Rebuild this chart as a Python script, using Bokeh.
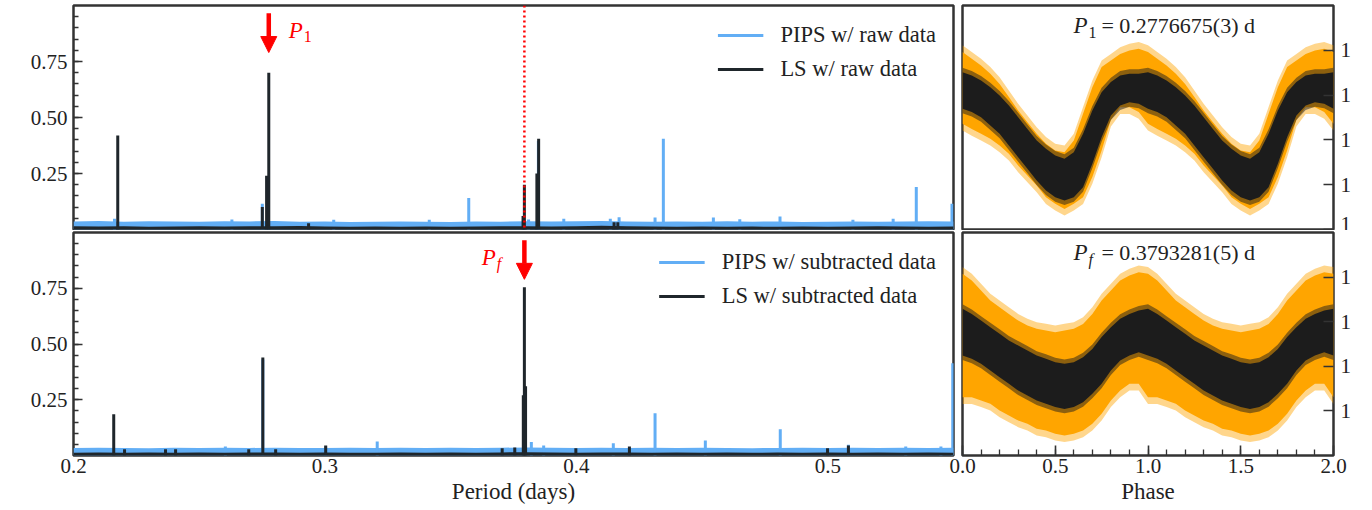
from bokeh.plotting import figure
from bokeh.layouts import row, column
from bokeh.models import (FixedTicker, Legend, LegendItem, Span, Arrow, NormalHead,
                          Label, CustomJSTickFormatter, PrintfTickFormatter, Range1d)
from bokeh.embed import file_html
from bokeh.resources import INLINE

SERIF = "Liberation Serif"
BLUE = "#62aef5"
DARK = "#1f262b"
ORANGE = "#ffa500"
BLACK = "#1c1c1c"
RED = "#ff0000"
SPINE = "#333333"
TXT = "#222222"

# best periods (days)
P1 = 0.2776675
PF = 0.3793281

# ---------------- periodograms ----------------
# noise floor, sampled every 0.01 d
floor_period = [0.20, 0.21, 0.22, 0.23, 0.24, 0.25, 0.26, 0.27, 0.28, 0.29, 0.30, 0.31,
                0.32, 0.33, 0.34, 0.35, 0.36, 0.37, 0.38, 0.39, 0.40, 0.41, 0.42, 0.43,
                0.44, 0.45, 0.46, 0.47, 0.48, 0.49, 0.50, 0.51, 0.52, 0.53, 0.54, 0.55]
raw_pips_floor = [0.036, 0.038, 0.035, 0.037, 0.036, 0.035, 0.037, 0.036, 0.038, 0.035, 0.036, 0.034,
                  0.035, 0.036, 0.035, 0.034, 0.036, 0.035, 0.037, 0.036, 0.037, 0.038, 0.036, 0.035,
                  0.036, 0.035, 0.037, 0.035, 0.036, 0.034, 0.035, 0.036, 0.035, 0.036, 0.037, 0.036]
raw_ls_floor = [0.014, 0.013, 0.014, 0.012, 0.013, 0.014, 0.013, 0.015, 0.014, 0.016, 0.013, 0.012,
                0.013, 0.012, 0.013, 0.012, 0.013, 0.014, 0.015, 0.013, 0.014, 0.017, 0.014, 0.013,
                0.012, 0.013, 0.012, 0.013, 0.012, 0.013, 0.012, 0.013, 0.014, 0.013, 0.012, 0.013]
sub_pips_floor = [0.034, 0.035, 0.034, 0.033, 0.035, 0.034, 0.035, 0.034, 0.035, 0.034, 0.034, 0.035,
                  0.034, 0.035, 0.034, 0.035, 0.034, 0.035, 0.036, 0.035, 0.034, 0.035, 0.034, 0.035,
                  0.034, 0.035, 0.034, 0.033, 0.034, 0.035, 0.034, 0.035, 0.034, 0.035, 0.034, 0.035]
sub_ls_floor = [0.012, 0.013, 0.012, 0.013, 0.012, 0.013, 0.012, 0.013, 0.014, 0.012, 0.013, 0.012,
                0.012, 0.013, 0.012, 0.013, 0.012, 0.014, 0.015, 0.013, 0.012, 0.013, 0.014, 0.012,
                0.013, 0.012, 0.013, 0.012, 0.013, 0.012, 0.013, 0.012, 0.013, 0.012, 0.013, 0.012]

# individual peaks above the floor
raw_pips_period = [0.2163, 0.2630, 0.2751, 0.3035, 0.3415, 0.3572, 0.3810, 0.3849, 0.3950, 0.4135,
                   0.4170, 0.4313, 0.4346, 0.4545, 0.4650, 0.4810, 0.5100, 0.5260, 0.5352, 0.5494]
raw_pips_power = [0.048, 0.045, 0.115, 0.044, 0.044, 0.141, 0.045, 0.395, 0.048, 0.048,
                  0.055, 0.054, 0.405, 0.054, 0.046, 0.058, 0.044, 0.048, 0.190, 0.115]
raw_ls_period = [0.2176, 0.2751, 0.2768, P1, 0.2935, 0.3788, PF, 0.3843, 0.3850, 0.4150, 0.4165]
raw_ls_power = [0.420, 0.100, 0.240, 0.700, 0.028, 0.060, 0.200, 0.250, 0.405, 0.032, 0.032]

sub_pips_period = [0.2604, 0.2753, 0.3003, 0.3208, 0.3821, 0.3870, 0.4147, 0.4313, 0.4513, 0.4811,
                   0.5082, 0.5310, 0.5450, 0.5497]
sub_pips_power = [0.040, 0.430, 0.040, 0.063, 0.060, 0.045, 0.055, 0.190, 0.067, 0.118,
                  0.048, 0.040, 0.040, 0.414]
sub_ls_period = [0.2160, 0.2203, 0.2366, 0.2406, 0.2697, 0.2753, 0.2804, 0.3003, 0.3705, 0.3755,
                 0.3789, PF, 0.3798, 0.3998, 0.4211, 0.4999, 0.5082]
sub_ls_power = [0.185, 0.028, 0.028, 0.028, 0.028, 0.440, 0.028, 0.045, 0.032, 0.036,
                0.270, 0.755, 0.310, 0.032, 0.040, 0.032, 0.045]

# ---------------- phase-folded light curves (one cycle, repeated) ----------------
phase = [0.00, 0.05, 0.10, 0.15, 0.20, 0.25, 0.30, 0.35, 0.40, 0.45, 0.50,
         0.55, 0.60, 0.65, 0.70, 0.75, 0.80, 0.85, 0.90, 0.95, 1.00]
p1_black_hi = [0.702, 0.688, 0.665, 0.635, 0.598, 0.554, 0.501, 0.449, 0.397, 0.360, 0.330,
               0.316, 0.345, 0.427, 0.531, 0.613, 0.658, 0.688, 0.695, 0.695, 0.702]
p1_black_lo = [0.539, 0.524, 0.501, 0.464, 0.427, 0.375, 0.323, 0.271, 0.219, 0.174, 0.144,
               0.129, 0.144, 0.189, 0.293, 0.412, 0.509, 0.554, 0.568, 0.561, 0.539]
p1_orange_hi = [0.792, 0.762, 0.732, 0.695, 0.650, 0.591, 0.531, 0.479, 0.427, 0.383, 0.353,
                0.345, 0.397, 0.517, 0.635, 0.725, 0.754, 0.784, 0.799, 0.807, 0.792]
p1_orange_lo = [0.472, 0.449, 0.427, 0.405, 0.375, 0.338, 0.286, 0.241, 0.196, 0.144, 0.115,
                0.092, 0.115, 0.144, 0.234, 0.353, 0.490, 0.546, 0.546, 0.524, 0.472]

pf_black_hi = [0.658, 0.635, 0.605, 0.575, 0.546, 0.516, 0.493, 0.471, 0.448, 0.434, 0.418,
               0.411, 0.418, 0.441, 0.478, 0.531, 0.575, 0.613, 0.635, 0.650, 0.658]
pf_black_lo = [0.448, 0.434, 0.411, 0.381, 0.351, 0.322, 0.291, 0.269, 0.247, 0.232, 0.217,
               0.209, 0.217, 0.239, 0.277, 0.322, 0.381, 0.426, 0.448, 0.463, 0.448]
pf_orange_hi = [0.815, 0.785, 0.740, 0.695, 0.665, 0.635, 0.605, 0.583, 0.568, 0.561, 0.553,
                0.561, 0.568, 0.590, 0.635, 0.695, 0.740, 0.785, 0.807, 0.822, 0.815]
pf_orange_lo = [0.261, 0.261, 0.247, 0.232, 0.202, 0.179, 0.157, 0.142, 0.120, 0.112, 0.097,
                0.090, 0.097, 0.112, 0.142, 0.187, 0.247, 0.291, 0.322, 0.322, 0.261]


def two_cycles(values):
    return list(values[:-1]) + list(values)


def shifted(values, dv):
    return [v + dv for v in two_cycles(values)]


phase2 = list(phase[:-1]) + [p + 1.0 for p in phase]


def style_frame(p):
    p.outline_line_color = SPINE
    p.outline_line_width = 2.5
    p.grid.visible = False
    p.border_fill_color = None
    p.background_fill_color = "white"


def periodogram(pips_floor, ls_floor, pips_x, pips_y, ls_x, ls_y, labels,
                height, top, bottom, show_x, margin):
    p = figure(width=955, height=height, x_range=Range1d(0.2, 0.55), y_range=Range1d(0.0, 1.0),
               min_border_left=73, min_border_right=2, min_border_top=top,
               min_border_bottom=bottom, output_backend="svg", toolbar_location=None,
               margin=margin)
    style_frame(p)
    p.varea(x=floor_period, y1=0, y2=pips_floor, fill_color=BLUE)
    r_pips = p.segment(x0=pips_x, y0=0, x1=pips_x, y1=pips_y, line_color=BLUE, line_width=3)
    p.varea(x=floor_period, y1=0, y2=ls_floor, fill_color=DARK)
    r_ls = p.segment(x0=ls_x, y0=0, x1=ls_x, y1=ls_y, line_color=DARK, line_width=3)

    ax = p.yaxis[0]
    ax.ticker = FixedTicker(ticks=[0.25, 0.5, 0.75],
                            minor_ticks=[round(0.05 * i, 2) for i in range(1, 20)])
    ax.formatter = PrintfTickFormatter(format="%.2f")
    ax.axis_line_color = None
    ax.major_tick_in, ax.major_tick_out = 9, 0
    ax.minor_tick_in, ax.minor_tick_out = 5, 0
    ax.major_tick_line_color = SPINE
    ax.minor_tick_line_color = SPINE
    ax.major_tick_line_width = 1.6
    ax.minor_tick_line_width = 1.3
    ax.major_label_text_font = SERIF
    ax.major_label_text_font_size = "21px"
    ax.major_label_text_color = TXT
    ax.major_label_standoff = 6

    xa = p.xaxis[0]
    if show_x:
        xa.ticker = FixedTicker(ticks=[0.2, 0.3, 0.4, 0.5])
        xa.formatter = PrintfTickFormatter(format="%.1f")
        xa.axis_line_color = None
        xa.major_tick_in, xa.major_tick_out = 0, 0
        xa.minor_tick_in, xa.minor_tick_out = 0, 0
        xa.major_label_text_font = SERIF
        xa.major_label_text_font_size = "21px"
        xa.major_label_text_color = TXT
        xa.major_label_standoff = 3
        xa.axis_label = "Period (days)"
        xa.axis_label_text_font = SERIF
        xa.axis_label_text_font_size = "23px"
        xa.axis_label_text_font_style = "normal"
        xa.axis_label_text_color = TXT
        xa.axis_label_standoff = 3
    else:
        xa.visible = False

    legend = Legend(items=[LegendItem(label=labels[0], renderers=[r_pips]),
                           LegendItem(label=labels[1], renderers=[r_ls])],
                    location="top_right", margin=8, padding=10, spacing=8,
                    label_standoff=17, glyph_width=46, glyph_height=22, label_height=22,
                    border_line_alpha=0, background_fill_alpha=0,
                    label_text_font=SERIF, label_text_font_size="22.5px",
                    label_text_color=TXT)
    legend.margin = 7
    p.add_layout(legend)
    return p


def period_marker(p, period, x_label, sub, sub_style):
    p.add_layout(Arrow(end=NormalHead(size=16, fill_color=RED, line_color=RED, line_width=1),
                       x_start=period, y_start=0.965, x_end=period, y_end=0.79,
                       line_color=RED, line_width=4.5))
    p.add_layout(Label(x=x_label, y=0.887, text="P", text_font=SERIF, text_font_style="italic",
                       text_font_size="23px", text_color=RED, text_baseline="middle"))
    p.add_layout(Label(x=x_label, x_offset=15, y=0.860, text=sub, text_font=SERIF,
                       text_font_style=sub_style, text_font_size="16px", text_color=RED,
                       text_baseline="middle"))


def phase_panel(bk_hi, bk_lo, or_hi, or_lo, y_ticks, height, top, bottom, show_x, margin,
                sub, sub_style, value_text):
    p = figure(width=432, height=height, x_range=Range1d(0.0, 2.0), y_range=Range1d(0.0, 1.0),
               y_axis_location="right", min_border_left=22, min_border_right=39,
               min_border_top=top, min_border_bottom=bottom, output_backend="svg",
               toolbar_location=None, margin=margin)
    style_frame(p)
    # raw photometry: thin outskirts of the cloud, then its dense core
    p.varea(x=phase2, y1=shifted(or_lo, -0.03), y2=shifted(or_hi, 0.03),
            fill_color=ORANGE, fill_alpha=0.45)
    p.varea(x=phase2, y1=two_cycles(or_lo), y2=two_cycles(or_hi), fill_color=ORANGE)
    # residual photometry: outskirts, then dense core
    p.varea(x=phase2, y1=shifted(bk_lo, -0.02), y2=shifted(bk_hi, 0.02),
            fill_color=BLACK, fill_alpha=0.5)
    p.varea(x=phase2, y1=two_cycles(bk_lo), y2=two_cycles(bk_hi), fill_color=BLACK)

    ya = p.yaxis[0]
    ya.ticker = FixedTicker(ticks=y_ticks, minor_ticks=[])
    ya.formatter = CustomJSTickFormatter(code="return '1'")
    ya.axis_line_color = None
    ya.major_tick_in, ya.major_tick_out = 10, 0
    ya.major_tick_line_color = SPINE
    ya.major_tick_line_width = 1.6
    ya.major_label_text_font = SERIF
    ya.major_label_text_font_size = "21px"
    ya.major_label_text_color = TXT
    ya.major_label_standoff = 7

    xa = p.xaxis[0]
    if show_x:
        xa.ticker = FixedTicker(ticks=[0.0, 0.5, 1.0, 1.5, 2.0],
                                minor_ticks=[round(0.1 * i, 1) for i in range(1, 20)])
        xa.formatter = PrintfTickFormatter(format="%.1f")
        xa.axis_line_color = None
        xa.major_tick_in, xa.major_tick_out = 10, 0
        xa.minor_tick_in, xa.minor_tick_out = 6, 0
        xa.major_tick_line_color = SPINE
        xa.minor_tick_line_color = SPINE
        xa.major_tick_line_width = 1.6
        xa.minor_tick_line_width = 1.3
        xa.major_label_text_font = SERIF
        xa.major_label_text_font_size = "21px"
        xa.major_label_text_color = TXT
        xa.major_label_standoff = 3
        xa.axis_label = "Phase"
        xa.axis_label_text_font = SERIF
        xa.axis_label_text_font_size = "23px"
        xa.axis_label_text_font_style = "normal"
        xa.axis_label_text_color = TXT
        xa.axis_label_standoff = 3
    else:
        xa.visible = False

    p.add_layout(Label(x=0.598, y=0.912, text="P", text_font=SERIF, text_font_style="italic",
                       text_font_size="23px", text_color=TXT, text_baseline="middle"))
    p.add_layout(Label(x=0.598, x_offset=15, y=0.880, text=sub, text_font=SERIF,
                       text_font_style=sub_style, text_font_size="16px", text_color=TXT,
                       text_baseline="middle"))
    p.add_layout(Label(x=0.598, x_offset=28, y=0.912, text=value_text, text_font=SERIF,
                       text_font_size="22px", text_color=TXT, text_baseline="middle"))
    return p


top_left = periodogram(raw_pips_floor, raw_ls_floor, raw_pips_period, raw_pips_power,
                       raw_ls_period, raw_ls_power, ["PIPS w/ raw data", "LS w/ raw data"],
                       height=230, top=5, bottom=1, show_x=False, margin=(0, 0, 0, 0))
top_left.add_layout(Span(location=PF, dimension="height", line_color=RED,
                         line_dash="2 3", line_width=2.5))
period_marker(top_left, P1, 0.2856, "1", "normal")

bottom_left = periodogram(sub_pips_floor, sub_ls_floor, sub_pips_period, sub_pips_power,
                          sub_ls_period, sub_ls_power,
                          ["PIPS w/ subtracted data", "LS w/ subtracted data"],
                          height=300, top=22, bottom=55, show_x=True, margin=(-20, 0, 0, 0))
period_marker(bottom_left, PF, 0.3624, "f", "italic")
bottom_left.add_layout(Label(x=0.2, x_offset=-68, y=1.0, y_offset=2, text="Power",
                             text_font=SERIF, text_font_size="22px", text_color=TXT,
                             text_baseline="middle"))

top_right = phase_panel(p1_black_hi, p1_black_lo, p1_orange_hi, p1_orange_lo,
                        [0.0, 0.2, 0.4, 0.6, 0.8], height=230, top=5, bottom=1, show_x=False,
                        margin=(0, 0, 0, 0), sub="1", sub_style="normal",
                        value_text=f"= {P1:.7f}(3) d")
bottom_right = phase_panel(pf_black_hi, pf_black_lo, pf_orange_hi, pf_orange_lo,
                           [0.2, 0.4, 0.6, 0.8], height=300, top=22, bottom=55, show_x=True,
                           margin=(-20, 0, 0, 0), sub="f", sub_style="italic",
                           value_text=f"= {PF:.7f}(5) d")

left = column(top_left, bottom_left)
right = column(top_right, bottom_right, margin=(0, 0, 0, -15))
layout = row(left, right)

open("out.html", "w").write(file_html(layout, INLINE))
